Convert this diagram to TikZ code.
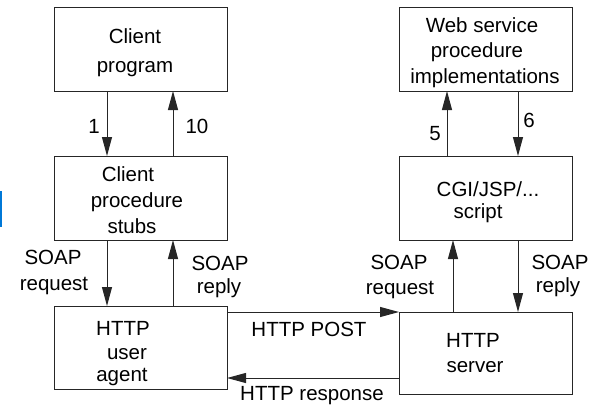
\documentclass[tikz,border=0pt]{standalone}
\usepackage{fontspec}
\setmainfont{Liberation Sans}
\usetikzlibrary{arrows.meta}
\begin{document}
\begin{tikzpicture}[x=1pt,y=-1pt,
  box/.style={draw=black!85,line width=1pt,rectangle,inner sep=0pt,
    minimum width=173pt},
  txt/.style={anchor=base,inner sep=0pt,font=\fontsize{20.5}{24}\selectfont},
  arr/.style={draw=black!85,line width=1pt,
    -{Triangle[length=19pt,width=10pt]},shorten >=-0.5pt}]
\useasboundingbox (0,0) rectangle (595,407);
\fill[fill={rgb,255:red,0;green,120;blue,215}] (0,191) rectangle (1.6,227);

% boxes
\node[box,minimum height=84pt] (prog)  at (140.5,49)   {};
\node[box,minimum height=84pt] (stubs) at (140.5,198)  {};
\node[box,minimum height=83pt] (agent) at (140.5,347.5){};
\node[box,minimum height=84pt] (impl)  at (485.5,49)   {};
\node[box,minimum height=84pt] (cgi)   at (485.5,198)  {};
\node[box,minimum height=82pt] (srv)   at (485.5,353)  {};

% box texts
\node[txt] (t1) at (135,43) {Client};
\node[txt] (t2) at (135,72) {program};
\node[txt] (t3) at (128,181) {Client};
\node[txt] (t4) at (137,207) {procedure};
\node[txt] (t5) at (132,233) {stubs};
\node[txt] (t6) at (123,335) {HTTP};
\node[txt] (t7) at (127,359) {user};
\node[txt] (t8) at (122,381) {agent};
\node[txt] (t9) at (482,32) {Web service};
\node[txt] (t10) at (477,57) {procedure};
\node[txt] (t11) at (485,83) {implementations};
\node[txt] (t12) at (488,196) {CGI/JSP/...};
\node[txt] (t13) at (478,218) {script};
\node[txt] (t14) at (473,347) {HTTP};
\node[txt] (t15) at (475,372) {server};

% vertical connector positions
\coordinate (xa) at (107,0);
\coordinate (xb) at (173,0);
\coordinate (xc) at (447,0);
\coordinate (xd) at (453,0);
\coordinate (xe) at (518,0);
% horizontal connector positions
\coordinate (ya) at (0,312);
\coordinate (yb) at (0,378);

\draw[arr] (prog.south -| xa) -- (stubs.north -| xa);
\draw[arr] (stubs.north -| xb) -- (prog.south -| xb);
\draw[arr] (stubs.south -| xa) -- (agent.north -| xa);
\draw[arr] (agent.north -| xb) -- (stubs.south -| xb);
\draw[arr] (cgi.north -| xc) -- (impl.south -| xc);
\draw[arr] (impl.south -| xe) -- (cgi.north -| xe);
\draw[arr] (srv.north -| xd) -- (cgi.south -| xd);
\draw[arr] (cgi.south -| xe) -- (srv.north -| xe);
\draw[arr] (agent.east |- ya) -- (srv.west |- ya);
\draw[arr] (srv.west |- yb) -- (agent.east |- yb);

% connector labels
\node[txt] (l1) at (94,133) {1};
\node[txt] (l10) at (197,133) {10};
\node[txt] (l5) at (435,140) {5};
\node[txt] (l6) at (529,127) {6};
\node[txt] (sq1) at (53,264) {SOAP};
\node[txt] (sq2) at (54,290) {request};
\node[txt] (sr1) at (220,270) {SOAP};
\node[txt] (sr2) at (219,293) {reply};
\node[txt] (sq3) at (399,269) {SOAP};
\node[txt] (sq4) at (400,294) {request};
\node[txt] (sr3) at (560,269) {SOAP};
\node[txt] (sr4) at (558,292) {reply};
\node[txt] (post) at (309,336) {HTTP POST};
\node[txt] (resp) at (312,400) {HTTP response};
\end{tikzpicture}
\end{document}
